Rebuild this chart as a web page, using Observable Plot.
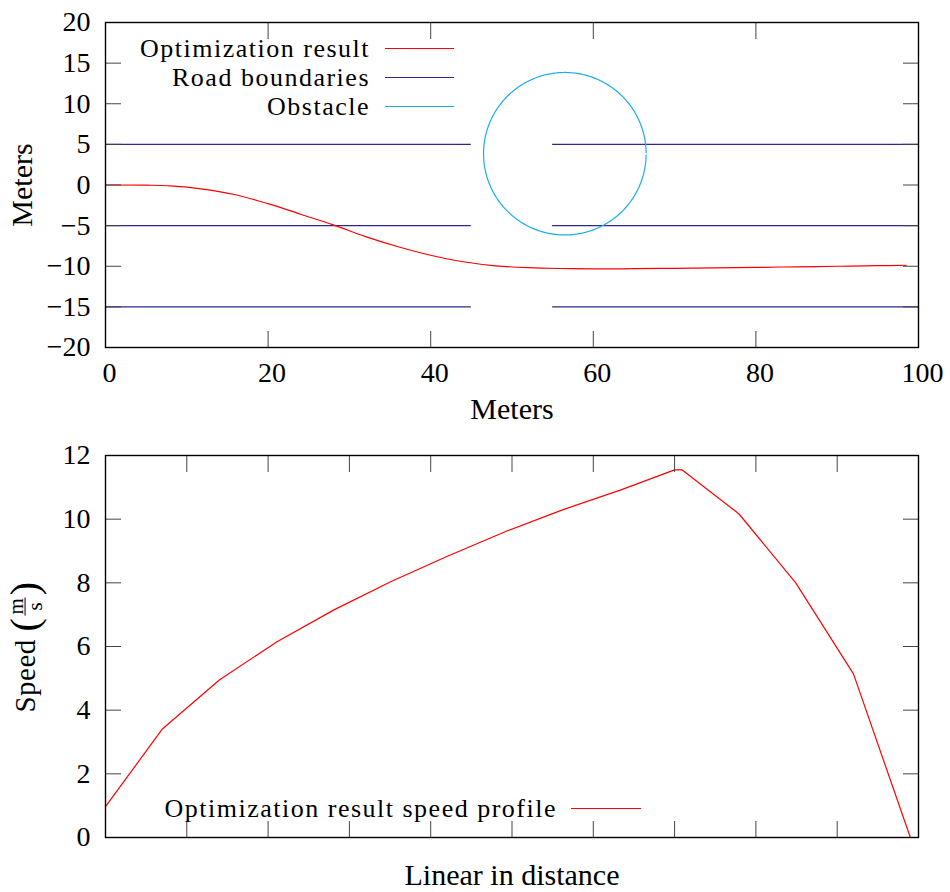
<!DOCTYPE html>
<html><head><meta charset="utf-8">
<script src="https://cdn.jsdelivr.net/npm/d3@7"></script>
<script src="https://cdn.jsdelivr.net/npm/@observablehq/plot@0.6"></script>
<style>
body{margin:0;background:#fff;font-family:"Liberation Serif","DejaVu Serif",serif;}
#wrap{position:relative;width:950px;height:892px;background:#fff;}
#wrap svg{display:block;}
.leg{position:absolute;font-size:26px;line-height:26px;letter-spacing:1.5px;white-space:nowrap;color:#000;}
.sw{position:absolute;height:0;border-top:1.5px solid;}
.ylab{position:absolute;font-size:29px;letter-spacing:0.5px;white-space:nowrap;color:#000;transform:rotate(-90deg);transform-origin:center center;display:flex;align-items:center;}
.frac{display:inline-flex;flex-direction:column;align-items:center;font-size:21px;line-height:18px;margin:0 2px;letter-spacing:0;}
.frac .num{border-bottom:1px solid #000;padding:0 1px;}
.par{font-size:40px;line-height:40px;}
</style></head><body><div id="wrap"></div>
<script>
// ---- Top panel data ----
const pathX = [0, 5, 8, 12, 16, 20, 24, 28, 32, 36, 40, 44, 48, 52, 56, 60, 65, 70, 75, 80, 85, 90, 95, 98.5];
const pathY = [0, -0.02, -0.1, -0.5, -1.2, -2.3, -3.6, -4.9, -6.35, -7.6, -8.65, -9.45, -9.95, -10.18, -10.28, -10.32, -10.3, -10.25, -10.2, -10.14, -10.07, -10.0, -9.93, -9.88];
const roadY = [5, -5, -15];
const roadX1 = [0, 55];
const roadX2 = [45, 100];
const obstacleCenter = [56.5, 3.85];
const obstacleRadius = 10;
const xTicksTop = [0, 20, 40, 60, 80, 100];
const yTicksTop = [-20, -15, -10, -5, 0, 5, 10, 15, 20];
const legendTop = ["Optimization result", "Road boundaries", "Obstacle"];
const colorsTop = ["#ff0000", "#2b2b8f", "#1aaee6"];

// ---- Bottom panel data ----
const speedX = [0, 0.70, 1.40, 2.11, 2.81, 3.52, 4.22, 4.93, 5.63, 6.34, 7.0, 7.09, 7.79, 8.49, 9.20, 9.90];
const speedY = [0.97, 3.41, 4.95, 6.15, 7.15, 8.05, 8.85, 9.62, 10.3, 10.92, 11.55, 11.55, 10.17, 8.0, 5.14, 0];
const xTicksBottom = [0, 1, 2, 3, 4, 5, 6, 7, 8, 9, 10];
const yTicksBottom = [0, 2, 4, 6, 8, 10, 12];
const legendBottom = ["Optimization result speed profile"];

const FONT = '"Liberation Serif", "DejaVu Serif", serif';

// tables built from arrays
const path = pathX.map((x, i) => ({x, y: pathY[i]}));
const roads = [];
roadY.forEach(y => roadX1.forEach((x1, j) => roads.push({y, x1, x2: roadX2[j]})));
const obstacle = d3.range(0, 361).map(i => {
  const a = 0.015 + (2 * Math.PI - 0.03) * i / 360;
  return {x: obstacleCenter[0] + obstacleRadius * Math.cos(a), y: obstacleCenter[1] + obstacleRadius * Math.sin(a)};
});
const speed = speedX.map((x, i) => ({x, y: speedY[i]}));

function axes(xt, yt, xLabels) {
  const tick = {tickSize: -16, tickFormat: () => "", label: null, stroke: "#444", strokeWidth: 1};
  return [
    Plot.axisX(xt, {anchor: "bottom", ...tick}),
    Plot.axisX(xt, {anchor: "top", ...tick}),
    Plot.axisY(yt, {anchor: "left", ...tick}),
    Plot.axisY(yt, {anchor: "right", ...tick}),
    xLabels ? Plot.axisX(xt, {anchor: "bottom", tickSize: 0, tickPadding: 15, label: null, dx: 4, fontFamily: FONT}) : null,
    Plot.axisY(yt, {anchor: "left", tickSize: 0, tickPadding: 15, label: null, fontFamily: FONT}),
    Plot.frame({stroke: "black", strokeWidth: 1.4})
  ];
}

const style = {fontFamily: FONT, fontSize: "28px", color: "black", background: "white", overflow: "visible"};
const labelStyle = {fontSize: 30, fontFamily: FONT, textAnchor: "middle", lineAnchor: "middle", letterSpacing: "1px"};

const topPlot = Plot.plot({
  width: 950, height: 430,
  marginTop: 22, marginBottom: 83, marginLeft: 105, marginRight: 32,
  x: {domain: [0, 100]},
  y: {domain: [-20, 20]},
  style,
  marks: [
    Plot.ruleY(roads, {y: "y", x1: "x1", x2: "x2", stroke: colorsTop[1], strokeWidth: 1.2}),
    Plot.line(obstacle, {x: "x", y: "y", stroke: colorsTop[2], strokeWidth: 1.2}),
    Plot.line(path, {x: "x", y: "y", stroke: colorsTop[0], strokeWidth: 1.2, curve: "catmull-rom"}),
    ...axes(xTicksTop, yTicksTop, true),
    Plot.text(["Meters"], {frameAnchor: "bottom", dy: 62, ...labelStyle}),
    Plot.text(["Meters"], {frameAnchor: "left", dx: -83, rotate: -90, ...labelStyle})
  ]
});

const bottomPlot = Plot.plot({
  width: 950, height: 462,
  marginTop: 25, marginBottom: 55, marginLeft: 105, marginRight: 32,
  x: {domain: [0, 10]},
  y: {domain: [0, 12]},
  style,
  marks: [
    Plot.line(speed, {x: "x", y: "y", stroke: "#ff0000", strokeWidth: 1.2}),
    ...axes(xTicksBottom, yTicksBottom, false),
    Plot.text(["Linear in distance"], {frameAnchor: "bottom", dy: 38, ...labelStyle})
  ]
});

const wrap = document.getElementById("wrap");
wrap.appendChild(topPlot);
wrap.appendChild(bottomPlot);

function legendRow(label, color, cy, textRight, lineLeft, lineLen) {
  const t = document.createElement("div");
  t.className = "leg";
  t.textContent = label;
  t.style.top = (cy - 12) + "px";
  t.style.right = (950 - textRight) + "px";
  wrap.appendChild(t);
  const s = document.createElement("div");
  s.className = "sw";
  s.style.borderTopColor = color;
  s.style.left = lineLeft + "px";
  s.style.width = lineLen + "px";
  s.style.top = cy + "px";
  wrap.appendChild(s);
}
legendTop.forEach((l, i) => legendRow(l, colorsTop[i], 48 + 29 * i, 370, 385, 69));
legendBottom.forEach((l, i) => legendRow(l, "#ff0000", 808, 557, 571, 70));

// Speed label with stacked fraction
const yl = document.createElement("div");
yl.className = "ylab";
yl.innerHTML = 'Speed&nbsp;<span class="par">(</span><span class="frac"><span class="num">m</span><span>s</span></span><span class="par">)</span>';
wrap.appendChild(yl);
const w = yl.offsetWidth, h = yl.offsetHeight;
yl.style.left = (24 - w / 2) + "px";
yl.style.top = (647 - h / 2) + "px";
</script></body></html>
